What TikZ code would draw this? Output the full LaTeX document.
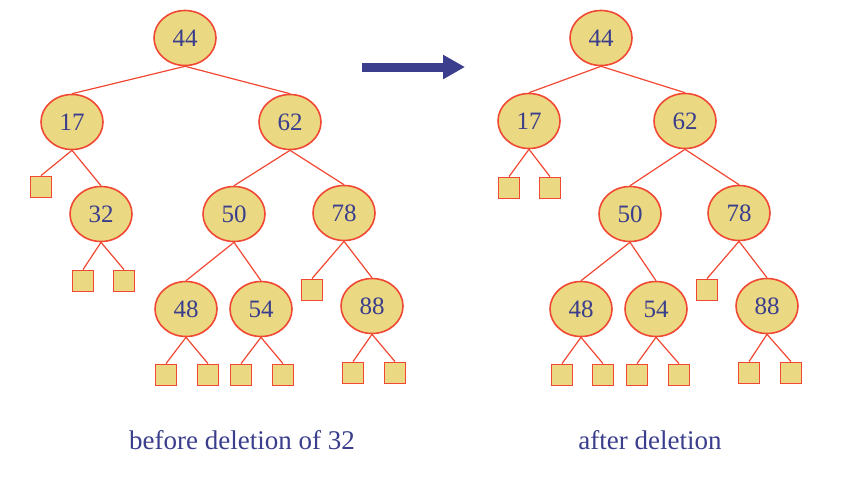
\documentclass[tikz,border=0pt]{standalone}
\usepackage{fontspec}
\setmainfont{Liberation Serif}
\usetikzlibrary{shapes.geometric,arrows.meta}
\definecolor{keyfill}{RGB}{235,216,130}
\definecolor{keyline}{RGB}{240,72,50}
\definecolor{keytext}{RGB}{58,62,140}
\tikzset{
  keynode/.style={ellipse, draw=keyline, line width=1.6pt, fill=keyfill,
    minimum width=62pt, minimum height=55pt, inner sep=0pt,
    text=keytext, font=\fontsize{25}{25}\selectfont},
  leafnode/.style={rectangle, draw=keyline, line width=1.8pt, fill=keyfill,
    minimum size=21pt, inner sep=0pt},
  treeedge/.style={draw=keyline, line width=1.2pt},
  caption/.style={text=keytext, font=\fontsize{27}{27}\selectfont, anchor=base}
}
\begin{document}
\begin{tikzpicture}[x=1pt, y=-1pt]
  \useasboundingbox (0,0) rectangle (866,480);

  % before deletion
  \node[keynode] (a44) at (185,38) {44};
  \node[keynode] (a17) at (72,122) {17};
  \node[keynode] (a62) at (290,122) {62};
  \node[keynode] (a32) at (101,214) {32};
  \node[keynode] (a50) at (234,214) {50};
  \node[keynode] (a78) at (344,213) {78};
  \node[keynode] (a48) at (186,309) {48};
  \node[keynode] (a54) at (261,309) {54};
  \node[keynode] (a88) at (372,306) {88};
  \foreach \name/\x/\y in {a17l/41/187, a32l/83/281, a32r/124/281,
      a78l/312/290, a48l/166/375, a48r/208/375, a54l/241/375, a54r/283/375,
      a88l/353/373, a88r/395/373}
    \node[leafnode] (\name) at (\x,\y) {};
  \foreach \p/\c in {a44/a17, a44/a62, a17/a17l, a17/a32, a32/a32l, a32/a32r,
      a62/a50, a62/a78, a50/a48, a50/a54, a78/a78l, a78/a88, a48/a48l,
      a48/a48r, a54/a54l, a54/a54r, a88/a88l, a88/a88r}
    \draw[treeedge] (\p.south) -- (\c.north);

  % after deletion
  \node[keynode] (b44) at (601,38) {44};
  \node[keynode] (b17) at (529,121) {17};
  \node[keynode] (b62) at (685,121) {62};
  \node[keynode] (b50) at (630,214) {50};
  \node[keynode] (b78) at (739,213) {78};
  \node[keynode] (b48) at (581,309) {48};
  \node[keynode] (b54) at (656,309) {54};
  \node[keynode] (b88) at (767,306) {88};
  \foreach \name/\x/\y in {b17l/509/188, b17r/550/188, b78l/707/290,
      b48l/562/375, b48r/603/375, b54l/637/375, b54r/679/375,
      b88l/749/373, b88r/791/373}
    \node[leafnode] (\name) at (\x,\y) {};
  \foreach \p/\c in {b44/b17, b44/b62, b17/b17l, b17/b17r, b62/b50, b62/b78,
      b50/b48, b50/b54, b78/b78l, b78/b88, b48/b48l, b48/b48r, b54/b54l,
      b54/b54r, b88/b88l, b88/b88r}
    \draw[treeedge] (\p.south) -- (\c.north);

  % arrow
  \coordinate (arrowtail) at (362,67);
  \coordinate (arrowtip) at (465,67);
  \draw[keytext, line width=9pt, -{Triangle[length=22pt, width=23pt]}]
    (arrowtail) -- (arrowtip);

  \node[caption] (before) at (242,449) {before deletion of 32};
  \node[caption] (after) at (650,449) {after deletion};
\end{tikzpicture}
\end{document}
